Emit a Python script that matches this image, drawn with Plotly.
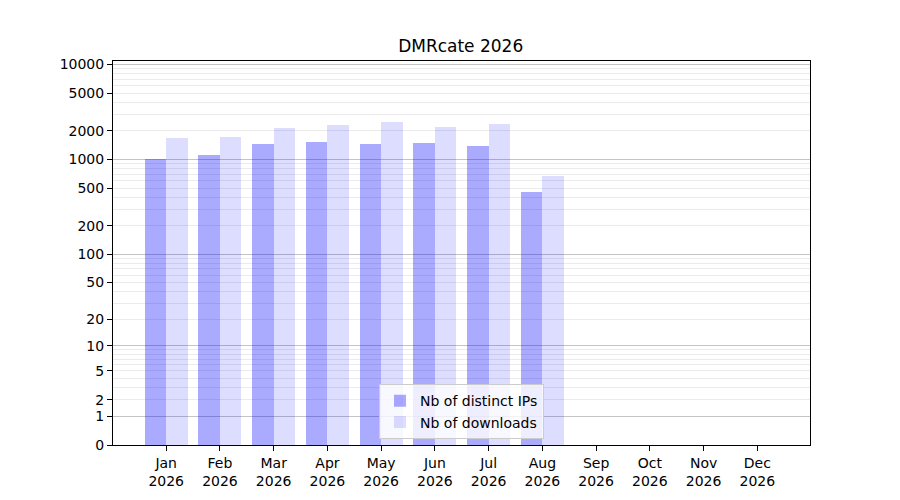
import numpy as np
import plotly.graph_objects as go

months = ["Jan", "Feb", "Mar", "Apr", "May", "Jun", "Jul", "Aug", "Sep", "Oct", "Nov", "Dec"]
year = "2026"
ips = [1005, 1112, 1452, 1523, 1452, 1486, 1383, 454]
downloads = [1678, 1719, 2137, 2298, 2471, 2189, 2354, 669]
ytick_values = [0, 1, 2, 5, 10, 20, 50, 100, 200, 500, 1000, 2000, 5000, 10000]
major_grid = [1, 10, 100, 1000, 10000]
minor_grid = [m * 10 ** e for e in range(0, 4) for m in range(2, 10)]


# the y axis is log10(1 + value), like a symlog scale
def f(v):
    return np.log10(1 + np.array(v, dtype=float))


xpos = list(range(len(months)))
font = "DejaVu Sans"

fig = go.Figure()
fig.add_trace(go.Bar(
    x=xpos[:len(ips)], y=f(ips), width=0.4, offset=-0.4,
    marker=dict(color="rgba(0,0,255,0.333)", line=dict(width=0)),
    name="Nb of distinct IPs", yaxis="y",
))
fig.add_trace(go.Bar(
    x=xpos[:len(downloads)], y=f(downloads), width=0.4, offset=0,
    marker=dict(color="rgba(0,0,255,0.134)", line=dict(width=0)),
    name="Nb of downloads", yaxis="y2",
))

# page body has an 8px margin, so the margins are shifted to compensate
yrange = [0, 4.036]
fig.update_layout(
    width=900, height=500,
    margin=dict(l=105, r=98, t=53, b=63),
    paper_bgcolor="white", plot_bgcolor="white",
    font=dict(family=font, size=14, color="black"),
    title=dict(text="DMRcate " + year, x=0.503, xanchor="center", y=0.924, yanchor="middle",
               font=dict(size=17, color="black")),
    barmode="overlay",
    bargap=0,
    showlegend=True,
    legend=dict(x=0.5, xanchor="center", y=0.015, yanchor="bottom",
                bgcolor="rgba(255,255,255,0.8)", bordercolor="#cccccc", borderwidth=1,
                font=dict(size=14), tracegroupgap=0, itemwidth=30),
    xaxis=dict(
        range=[-0.99, 11.98], tickmode="array", tickvals=xpos,
        ticktext=[m + "<br>" + year for m in months],
        showgrid=False, zeroline=False,
        showline=True, linecolor="black", linewidth=1, mirror=True,
        ticks="outside", ticklen=5, tickcolor="black",
    ),
    yaxis=dict(
        range=yrange, tickmode="array", tickvals=f(ytick_values),
        ticktext=[str(v) for v in ytick_values],
        showgrid=False, zeroline=False,
        showline=True, linecolor="black", linewidth=1, mirror=True,
        ticks="outside", ticklen=5, tickcolor="black",
        minor=dict(tickmode="array", tickvals=f(minor_grid), showgrid=True,
                   gridcolor="#ebebeb", gridwidth=1, ticks=""),
    ),
    yaxis2=dict(
        range=yrange, overlaying="y", side="left",
        tickmode="array", tickvals=f(major_grid), showticklabels=False,
        showgrid=True, gridcolor="#c4c4c4", gridwidth=1, zeroline=False,
        ticks="", showline=False,
    ),
)

fig.write_html("out.html")
